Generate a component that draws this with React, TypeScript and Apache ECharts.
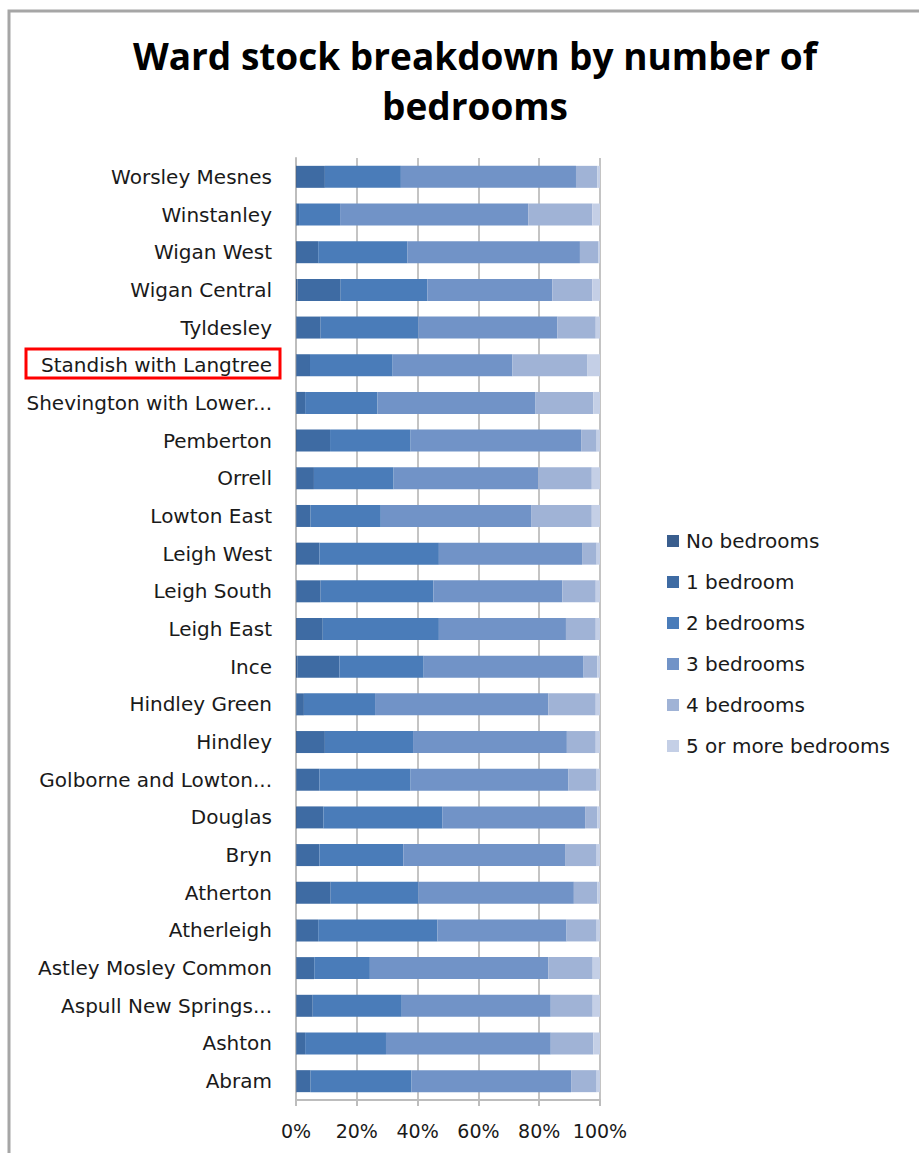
import React, { useEffect, useRef } from "react";
import * as echarts from "echarts";

const wards = [
  "Worsley Mesnes", "Winstanley", "Wigan West", "Wigan Central", "Tyldesley",
  "Standish with Langtree", "Shevington with Lower...", "Pemberton", "Orrell", "Lowton East",
  "Leigh West", "Leigh South", "Leigh East", "Ince", "Hindley Green",
  "Hindley", "Golborne and Lowton...", "Douglas", "Bryn", "Atherton",
  "Atherleigh", "Astley Mosley Common", "Aspull New Springs...", "Ashton", "Abram",
];

const seriesNames = ["No bedrooms", "1 bedroom", "2 bedrooms", "3 bedrooms", "4 bedrooms", "5 or more bedrooms"];

const noBedrooms = [0.3, 0.1, 0.3, 0.5, 0.2, 0.2, 0.1, 0.3, 0.2, 0.2, 0.3, 0.2, 0.3, 0.4, 0.1, 0.3, 0.2, 0.3, 0.2, 0.3, 0.2, 0.2, 0.2, 0.1, 0.2];
const oneBedroom = [9.2, 0.9, 7.0, 14.2, 7.9, 4.4, 2.9, 10.9, 5.7, 4.6, 7.4, 7.9, 8.5, 13.9, 2.5, 9.2, 7.5, 8.7, 7.5, 11.1, 7.1, 5.8, 5.3, 2.9, 4.6];
const twoBedrooms = [25.0, 13.5, 29.3, 28.5, 32.1, 27.2, 23.8, 26.5, 26.2, 23.1, 39.3, 37.1, 38.2, 27.7, 23.4, 29.0, 30.0, 39.1, 27.6, 28.8, 39.2, 18.3, 29.3, 26.6, 33.2];
const threeBedrooms = [57.6, 61.9, 56.8, 41.1, 45.8, 39.4, 52.0, 56.1, 47.6, 49.6, 47.1, 42.4, 41.8, 52.6, 57.0, 50.6, 51.9, 47.0, 53.2, 51.2, 42.5, 58.7, 49.0, 54.2, 52.5];
const fourBedrooms = [7.0, 21.1, 6.1, 13.2, 12.6, 24.7, 19.0, 5.1, 17.6, 19.8, 4.8, 11.0, 9.8, 4.5, 15.6, 9.5, 9.3, 4.0, 10.4, 7.7, 9.9, 14.6, 13.8, 14.0, 8.4];
const fivePlusBedrooms = [0.9, 2.5, 0.5, 2.5, 1.4, 4.1, 2.2, 1.1, 2.7, 2.7, 1.1, 1.4, 1.4, 0.9, 1.4, 1.4, 1.1, 0.9, 1.1, 0.9, 1.1, 2.4, 2.4, 2.2, 1.1];

const xTickLabels = ["0%", "20%", "40%", "60%", "80%", "100%"];

const colors = ["#3A5E8E", "#3E6BA3", "#4A7CB9", "#7193C7", "#A0B3D6", "#C4CFE6"];

export default function App() {
  const ref = useRef<HTMLDivElement>(null);
  useEffect(() => {
    if (!ref.current) return;
    const chart = echarts.init(ref.current, null, { renderer: "svg" });
    const data = [noBedrooms, oneBedroom, twoBedrooms, threeBedrooms, fourBedrooms, fivePlusBedrooms];
    const titleFont = "'Open Sans', Lato, sans-serif";
    const font = "'DejaVu Sans', 'Open Sans', sans-serif";
    chart.setOption({
      animation: false,
      backgroundColor: "#ffffff",
      title: {
        text: "Ward stock breakdown by number of\nbedrooms",
        left: 470,
        textAlign: "center",
        top: 25,
        textStyle: { fontFamily: titleFont, fontWeight: "bold", fontSize: 37, lineHeight: 50, color: "#000000" },
      },
      legend: {
        orient: "vertical",
        left: 662,
        top: 526,
        itemWidth: 12,
        itemHeight: 12,
        itemGap: 21,
        icon: "rect",
        data: seriesNames,
        textStyle: { fontFamily: font, fontSize: 20, color: "#1a1a1a", padding: [0, 0, 0, 2] },
      },
      grid: { left: 296, top: 158, width: 304, height: 942, containLabel: false },
      xAxis: {
        type: "value",
        min: 0,
        max: 100,
        interval: 20,
        axisLabel: {
          formatter: (v: number) => xTickLabels[Math.round(v / 20)],
          fontFamily: font,
          fontSize: 19,
          color: "#1a1a1a",
          margin: 21,
        },
        axisLine: { show: true, lineStyle: { color: "#BDBDBD", width: 2 } },
        axisTick: { show: true, length: 6, lineStyle: { color: "#BDBDBD", width: 2 } },
        splitLine: { show: true, lineStyle: { color: "#C4C4C4", width: 2 } },
      },
      yAxis: {
        type: "category",
        data: wards,
        inverse: true,
        axisLabel: { fontFamily: font, fontSize: 20, color: "#1a1a1a", margin: 24 },
        axisLine: { show: true, lineStyle: { color: "#BDBDBD", width: 2 } },
        axisTick: { show: false },
      },
      series: seriesNames.map((name, i) => ({
        name,
        type: "bar",
        stack: "total",
        barWidth: 22,
        data: data[i],
        itemStyle: { color: colors[i] },
      })),
      graphic: [
        {
          type: "polyline",
          shape: { points: [[9, 1153], [9, 11], [919, 11]] },
          style: { stroke: "#A6A6A6", lineWidth: 3, fill: "none" },
        },
        {
          type: "rect",
          shape: { x: 26, y: 349, width: 254, height: 29 },
          style: { stroke: "#FF0000", lineWidth: 3, fill: "none" },
        },
      ],
    });
    return () => chart.dispose();
  }, []);
  return <div ref={ref} style={{ width: 919, height: 1153, position: "absolute", left: 0, top: 0 }} />;
}
